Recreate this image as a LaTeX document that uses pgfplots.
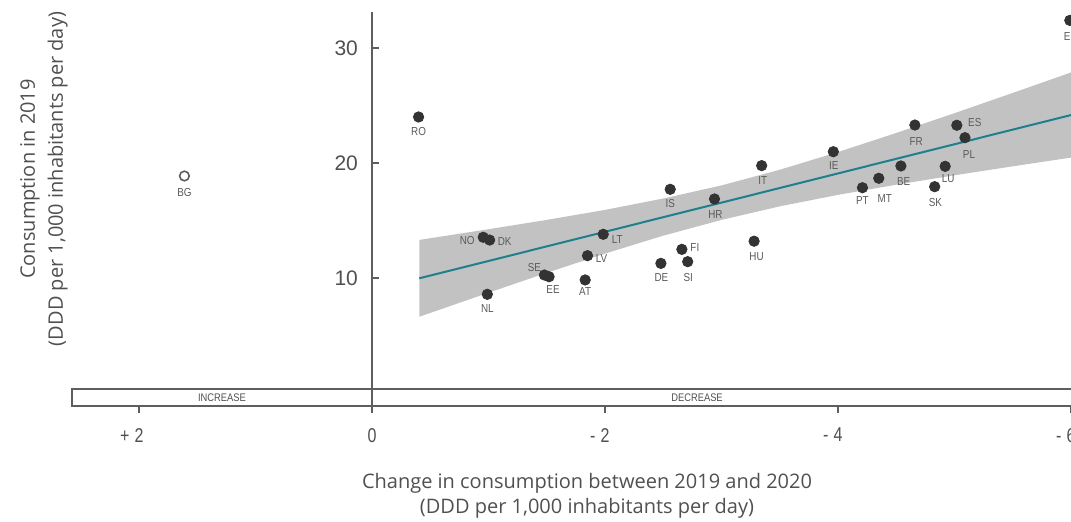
\documentclass[border=0pt]{standalone}
\usepackage{pgfplots}
\pgfplotsset{compat=1.18}
\usepackage{pgfplotstable}
\usepackage{fontspec}
\setmainfont{Liberation Sans}
\newfontfamily\opensans{Open Sans}
\newfontfamily\condfont[FakeStretch=0.85]{Liberation Sans}
\newfontfamily\tickfont[FakeStretch=0.8]{Liberation Sans}

\definecolor{axisgray}{HTML}{5E5E5E}
\definecolor{bandgray}{HTML}{C2C2C2}
\definecolor{tealline}{HTML}{1F7F8C}
\definecolor{dotgray}{HTML}{333333}
\definecolor{labgray}{HTML}{5A5A5A}
\definecolor{textgray}{HTML}{505050}

% x y label  label offset (pt): dx dy
\pgfplotstableread{
x y lab dx dy
-0.40 24.00 RO 0 -7.5
-0.955 13.54 NO -8 -1.5
-1.01 13.30 DK 7.5 -0.75
-0.99 8.58 NL 0 -7
-1.48 10.26 SE -5 3.5
-1.52 10.11 EE 2 -6.5
-1.985 13.80 LT 7 -2.5
-1.85 11.94 LV 7 -1.5
-1.83 9.83 AT 0 -6
-2.56 17.71 IS 0 -7
-2.94 16.87 HR 0.5 -8
-3.345 19.77 IT 0.5 -7.5
-2.66 12.49 FI 6.5 0.75
-2.71 11.42 SI 0.25 -7.8
-2.48 11.27 DE 0.25 -7
-3.28 13.20 HU 1.25 -7.5
-3.96 20.98 IE 0.25 -7
-4.66 23.30 FR 0.65 -8
-5.02 23.28 ES 9 1.5
-5.09 22.20 PL 2 -8.5
-4.54 19.74 BE 1.35 -8
-4.92 19.71 LU 1.5 -6
-4.35 18.67 MT 3 -10
-4.21 17.85 PT 0 -6.5
-4.83 17.94 SK 0.35 -8
-5.99 32.40 EL 0 -8
}\countries

\pgfplotstableread{
x y
-0.406 13.31
-1.0 14.24
-1.5 15.05
-2.0 15.92
-2.5 16.91
-3.0 18.05
-3.5 19.41
-4.0 20.95
-4.5 22.61
-5.0 24.33
-5.5 26.09
-6.0 27.87
-6.3 28.94
-6.3 20.92
-6.0 20.47
-5.5 19.71
-5.0 18.93
-4.5 18.11
-4.0 17.23
-3.5 16.23
-3.0 15.05
-2.5 13.68
-2.0 12.12
-1.5 10.45
-1.0 8.72
-0.406 6.63
}\band

\begin{document}
\begin{tikzpicture}
\useasboundingbox (0,0) rectangle (535.5pt,261pt);
\begin{axis}[
  scale only axis,
  width=516.97pt, height=197.17pt,
  at={(36pt,58pt)}, anchor=south west,
  x dir=reverse,
  xmin=-6.3, xmax=2.575, ymin=-1.13, ymax=33.16,
  axis x line=bottom, axis y line=center,
  axis line style={-, draw=axisgray, line width=1pt},
  hide obscured x ticks=false, hide obscured y ticks=false,
  xtick={2,0,-2,-4,-6},
  xticklabels={\llap{+\hspace{2.5pt}}2,0,\llap{-\hspace{2.5pt}}2,\llap{-\hspace{2.5pt}}4,\llap{-\hspace{2.5pt}}6},
  ytick={10,20,30}, yticklabels={10,20,30},
  tick style={draw=axisgray, line width=0.8pt},
  major tick length=3.5pt,
  tick align=outside,
  x tick label style={font=\tickfont\fontsize{10}{11}\selectfont, text=textgray, yshift=-4pt},
  y tick label style={font=\fontsize{10.5}{12}\selectfont, text=textgray},
  clip=false,
]
\addplot[fill=bandgray, draw=none, forget plot] table[x=x, y=y] {\band};
\addplot[tealline, line width=1pt, forget plot] coordinates {(-0.406,9.97) (-6.3,24.93)};
\addplot[only marks, mark=*, mark size=2.6pt,
  mark options={fill=dotgray, draw=dotgray},
  point meta=explicit symbolic,
  visualization depends on={\thisrow{dx} \as \ldx},
  visualization depends on={\thisrow{dy} \as \ldy},
  nodes near coords,
  nodes near coords style={anchor=center, inner sep=0pt,
    font=\condfont\fontsize{5.8}{6}\selectfont, text=labgray,
    xshift=\ldx*1pt, yshift=\ldy*1pt},
] table[x=x, y=y, meta=lab] {\countries};
\addplot[only marks, mark=o, mark size=2.4pt,
  mark options={draw=axisgray, line width=0.8pt},
  point meta=explicit symbolic,
  nodes near coords,
  nodes near coords style={anchor=center, inner sep=0pt,
    font=\condfont\fontsize{5.8}{6}\selectfont, text=labgray,
    yshift=-8.3pt},
] table[x=x, y=y, meta=lab] {
x y lab
1.61 18.87 BG
};
\draw[axisgray, line width=1pt] (axis cs:2.575,-1.13) rectangle (axis cs:-6.3,0.348);
\node[font=\condfont\fontsize{5.5}{6}\selectfont, text=textgray] at (axis cs:1.288,-0.39) {INCREASE};
\node[font=\condfont\fontsize{5.5}{6}\selectfont, text=textgray] at (axis cs:-2.79,-0.39) {DECREASE};
\end{axis}
\node[font=\opensans\fontsize{10}{12.5}\selectfont, text=textgray, align=center] at (293.5pt,13.25pt)
  {Change in consumption between 2019 and 2020\\(DDD per 1,000 inhabitants per day)};
\node[font=\opensans\fontsize{10}{14}\selectfont, text=textgray, align=center, rotate=90] at (22pt,171.5pt)
  {Consumption in 2019\\(DDD per 1,000 inhabitants per day)};
\end{tikzpicture}
\end{document}
